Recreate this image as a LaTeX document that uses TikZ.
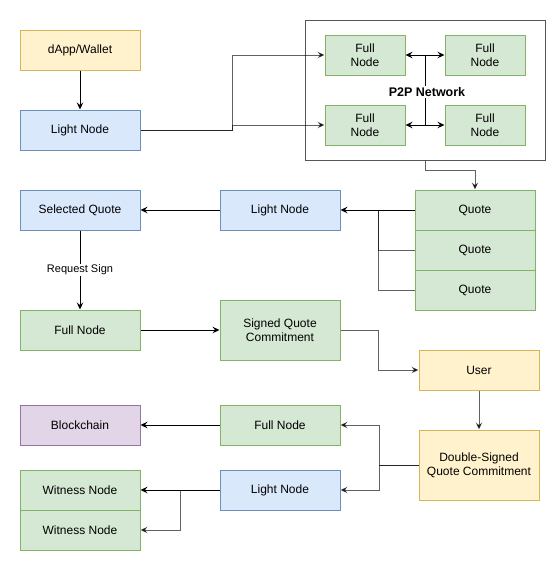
\documentclass[tikz,border=0pt]{standalone}
\usepackage{fontspec}
\setmainfont{Liberation Sans}
\usepackage{xcolor}
\usepackage{tikz}
\usetikzlibrary{arrows.meta}

\definecolor{greenfill}{HTML}{D5E8D4}
\definecolor{greenline}{HTML}{82B366}
\definecolor{bluefill}{HTML}{DAE8FC}
\definecolor{blueline}{HTML}{6C8EBF}
\definecolor{yellowfill}{HTML}{FFF2CC}
\definecolor{yellowline}{HTML}{D6B656}
\definecolor{purplefill}{HTML}{E1D5E7}
\definecolor{purpleline}{HTML}{9673A6}
\definecolor{netline}{HTML}{555555}

\tikzset{
  box/.style={draw, line width=1pt, minimum width=120pt, minimum height=40pt, inner sep=0pt, align=center, font=\fontsize{12}{14}\selectfont},
  greenbox/.style={box, fill=greenfill, draw=greenline},
  bluebox/.style={box, fill=bluefill, draw=blueline},
  yellowbox/.style={box, fill=yellowfill, draw=yellowline},
  purplebox/.style={box, fill=purplefill, draw=purpleline},
  arr/.style={-{Stealth[length=7pt,width=6.5pt,inset=2.5pt]}, line width=1pt, black},
  garr/.style={arr, draw opacity=0.62, fill opacity=0.8},
  gline/.style={line width=1pt, black, draw opacity=0.62}
}

\begin{document}
\begin{tikzpicture}[x=1pt,y=-1pt]
        \useasboundingbox (0,0) rectangle (560,571);

        \node[yellowbox] (wallet) at (80,50) {dApp/Wallet};
        \node[bluebox] (lightA) at (80,130) {Light Node};

        \node[draw=netline, line width=1pt, minimum width=240pt, minimum height=140pt] (net) at (425,90) {};
        \node[greenbox, minimum width=80pt] (fullA) at (365,55) {Full\\Node};
        \node[greenbox, minimum width=80pt] (fullB) at (485,55) {Full\\Node};
        \node[greenbox, minimum width=80pt] (fullC) at (365,125) {Full\\Node};
        \node[greenbox, minimum width=80pt] (fullD) at (485,125) {Full\\Node};
        \coordinate (p2pTop) at (425,55);
        \coordinate (p2pBot) at (425,125);

        \node[greenbox] (quoteA) at (475,210) {Quote};
        \node[greenbox] (quoteB) at (475,250) {Quote};
        \node[greenbox] (quoteC) at (475,290) {Quote};
        \node[bluebox] (lightB) at (280,210) {Light Node};
        \node[bluebox] (selected) at (80,210) {Selected Quote};
        \node[greenbox] (fullE) at (80,330) {Full Node};
        \node[greenbox, minimum height=60pt] (signed) at (280,330) {Signed Quote\\Commitment};
        \node[yellowbox] (user) at (479,370) {User};
        \node[yellowbox, minimum height=70pt] (double) at (479,465) {Double-Signed\\Quote Commitment};

        \node[greenbox] (fullF) at (280,425) {Full Node};
        \node[bluebox] (lightC) at (280,490) {Light Node};
        \node[purplebox] (chain) at (80,425) {Blockchain};
        \node[greenbox] (witnessA) at (80,490) {Witness Node};
        \node[greenbox] (witnessB) at (80,530) {Witness Node};

        \draw[arr] (wallet) -- (lightA);
        \draw[garr] (lightA.east) -- (232,130) |- (fullA.west);
        \draw[garr] (lightA.east) -- (232,130) |- (fullC.west);

        \draw[line width=1pt] (p2pTop) -- (p2pBot);
        \draw[arr] (p2pTop) -- (fullA.east);
        \draw[arr] (p2pTop) -- (fullB.west);
        \draw[arr] (p2pBot) -- (fullC.east);
        \draw[arr] (p2pBot) -- (fullD.west);
        \node[fill=white, inner sep=1.5pt, font=\fontsize{12.5}{14}\bfseries] (p2p) at (427,92) {P2P Network};

        \draw[garr] (net.south) -- ++(0,10) -| (quoteA.north);
        \draw[arr] (quoteA.west) -- (lightB.east);
        \draw[gline] (quoteB.west) -| (378,210);
        \draw[gline] (quoteC.west) -| (378,210);
        \draw[arr] (lightB) -- (selected);
        \draw[arr] (selected) -- node[fill=white, inner sep=1pt, font=\fontsize{11}{13}\selectfont] (req) {Request Sign} (fullE);
        \draw[arr] (fullE) -- (signed.west |- fullE);
        \draw[garr] (signed.east) -- (378,330) |- (user.west);
        \draw[garr] (user) -- (double);

        \draw[garr] (double.west) -- (379,465) |- (fullF.east);
        \draw[garr] (double.west) -- (379,465) |- (lightC.east);
        \draw[arr] (fullF) -- (chain);
        \draw[arr] (lightC) -- (witnessA);
        \draw[garr] (lightC.west) -- (180,490) |- (witnessB.east);

    \end{tikzpicture}
\end{document}
